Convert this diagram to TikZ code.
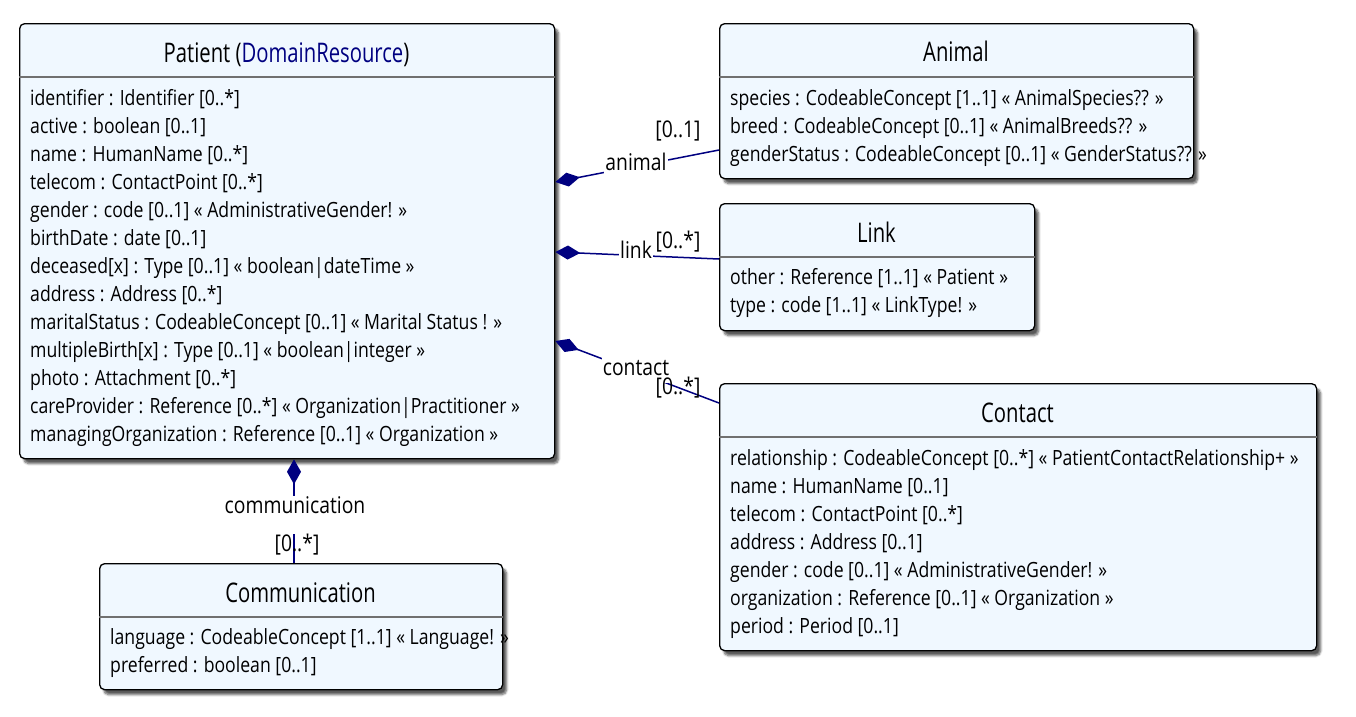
\documentclass[tikz,border=0pt]{standalone}
\usepackage{fontspec}
\setmainfont{Open Sans}[FakeStretch=0.84]
\newfontfamily\titlefont{Open Sans}[FakeStretch=0.75]
\usetikzlibrary{arrows.meta,shadows.blur,calc}
\definecolor{boxfill}{HTML}{F0F8FF}
\definecolor{linkc}{HTML}{000080}
\definecolor{sepc}{HTML}{707070}
\tikzset{
 cls/.style={draw=black, line width=1.3pt, fill=boxfill, rounded corners=5pt, anchor=north west, inner sep=0pt,
   blur shadow={shadow xshift=4pt, shadow yshift=-5pt, shadow blur steps=6, shadow opacity=65}},
 sepline/.style={draw=sepc, line width=1.5pt},
 ttl/.style={anchor=base, font=\titlefont\fontsize{27}{30}\selectfont, inner sep=0pt},
 attr/.style={anchor=base west, font=\fontsize{21}{24}\selectfont, inner sep=0pt},
 lbl/.style={font=\fontsize{23}{25}\selectfont, inner sep=0pt, text=black},
 rolelbl/.style={lbl, fill=white, inner ysep=3pt, inner xsep=1pt, minimum height=30pt},
 assoc/.style={draw=linkc, line width=1.5pt, {Diamond[length=25pt,width=14pt,fill=linkc]}-},
}
\begin{document}
\begin{tikzpicture}[x=1pt,y=-1pt]
\useasboundingbox (0,0) rectangle (1356,716);
% boxes
\node[cls, minimum width=535pt, minimum height=435pt] (patient) at (19,23) {};
\node[cls, minimum width=474pt, minimum height=155pt] (animal) at (719,23) {};
\node[cls, minimum width=315pt, minimum height=127pt] (link) at (719,203) {};
\node[cls, minimum width=597pt, minimum height=267pt] (contact) at (719,383) {};
\node[cls, minimum width=403pt, minimum height=126pt] (comm) at (99,563) {};
% separators
\draw[sepline] ($(patient.north west)+(0,54)$) -- ($(patient.north east)+(0,54)$);
\draw[sepline] ($(animal.north west)+(0,54)$) -- ($(animal.north east)+(0,54)$);
\draw[sepline] ($(link.north west)+(0,54)$) -- ($(link.north east)+(0,54)$);
\draw[sepline] ($(contact.north west)+(0,54)$) -- ($(contact.north east)+(0,54)$);
\draw[sepline] ($(comm.north west)+(0,54)$) -- ($(comm.north east)+(0,54)$);
% titles
\node[ttl] (ptitle) at (286.5,62) {Patient (\textcolor{linkc}{DomainResource})};
\node[ttl] (atitle) at (956,61) {Animal};
\node[ttl] (ltitle) at (876.5,242) {Link};
\node[ttl] (ctitle) at (1017.5,422) {Contact};
\node[ttl] (mtitle) at (300.5,602) {Communication};
% Patient attributes
\node[attr] (p1) at (30,105) {identifier : Identifier [0..*]};
\node[attr] (p2) at (30,133) {active : boolean [0..1]};
\node[attr] (p3) at (30,161) {name : HumanName [0..*]};
\node[attr] (p4) at (30,189) {telecom : ContactPoint [0..*]};
\node[attr] (p5) at (30,217) {gender : code [0..1] « AdministrativeGender! »};
\node[attr] (p6) at (30,245) {birthDate : date [0..1]};
\node[attr] (p7) at (30,273) {deceased[x] : Type [0..1] « boolean|dateTime »};
\node[attr] (p8) at (30,301) {address : Address [0..*]};
\node[attr] (p9) at (30,329) {maritalStatus : CodeableConcept [0..1] « Marital Status ! »};
\node[attr] (p10) at (30,357) {multipleBirth[x] : Type [0..1] « boolean|integer »};
\node[attr] (p11) at (30,385) {photo : Attachment [0..*]};
\node[attr] (p12) at (30,413) {careProvider : Reference [0..*] « Organization|Practitioner »};
\node[attr] (p13) at (30,441) {managingOrganization : Reference [0..1] « Organization »};
% Animal
\node[attr] (a1) at (730,105) {species : CodeableConcept [1..1] « AnimalSpecies?? »};
\node[attr] (a2) at (730,133) {breed : CodeableConcept [0..1] « AnimalBreeds?? »};
\node[attr] (a3) at (730,161) {genderStatus : CodeableConcept [0..1] « GenderStatus?? »};
% Link
\node[attr] (l1) at (730,284) {other : Reference [1..1] « Patient »};
\node[attr] (l2) at (730,312) {type : code [1..1] « LinkType! »};
% Contact
\node[attr] (c1) at (730,465) {relationship : CodeableConcept [0..*] « PatientContactRelationship+ »};
\node[attr] (c2) at (730,493) {name : HumanName [0..1]};
\node[attr] (c3) at (730,521) {telecom : ContactPoint [0..*]};
\node[attr] (c4) at (730,549) {address : Address [0..1]};
\node[attr] (c5) at (730,577) {gender : code [0..1] « AdministrativeGender! »};
\node[attr] (c6) at (730,605) {organization : Reference [0..1] « Organization »};
\node[attr] (c7) at (730,633) {period : Period [0..1]};
% Communication
\node[attr] (m1) at (110,644) {language : CodeableConcept [1..1] « Language! »};
\node[attr] (m2) at (110,672) {preferred : boolean [0..1]};
% connectors
\draw[assoc] ($(patient.north east)+(0,159)$) -- ($(animal.north west)+(0,127)$);
\draw[assoc] ($(patient.north east)+(0,229)$) -- ($(link.north west)+(0,56)$);
\draw[assoc] ($(patient.north east)+(0,318)$) -- ($(contact.north west)+(0,20)$);
\draw[assoc] ($(patient.south west)+(275,0)$) -- ($(comm.north west)+(195,0)$);
% labels
\node[rolelbl] (an) at (636,162) {animal};
\node[lbl] (am) at (678,131) {[0..1]};
\node[rolelbl] (ln) at (636,250) {link};
\node[lbl] (lm) at (678,242) {[0..*]};
\node[rolelbl] (cn) at (636,368) {contact};
\node[lbl] (cm) at (678,388) {[0..*]};
\node[lbl, fill=white, inner xsep=1pt, inner ysep=0pt, text height=17pt, text depth=21pt, anchor=base] (mn) at (295,513) {communication};
\node[lbl] (mm) at (297,545) {[0..*]};
\end{tikzpicture}
\end{document}
